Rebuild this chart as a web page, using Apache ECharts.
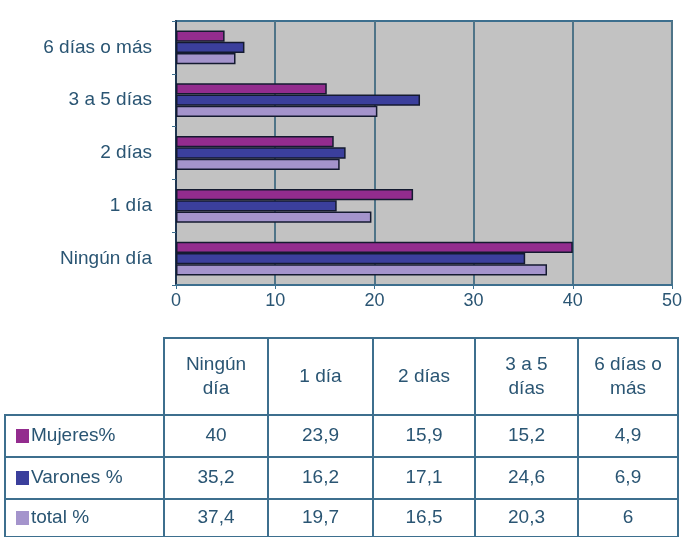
<!DOCTYPE html>
<html>
<head>
<meta charset="utf-8">
<script src="https://cdn.jsdelivr.net/npm/echarts@6/dist/echarts.min.js"></script>
<style>
  html, body { margin: 0; padding: 0; background: #fff; }
  #chart { width: 685px; height: 537px; }
</style>
</head>
<body>
<div id="chart"></div>
<script>
// categorias (de abajo hacia arriba en el grafico)
const categories = ["Ningún día", "1 día", "2 días", "3 a 5 días", "6 días o más"];
const headerLabels = ["Ningún\ndía", "1 día", "2 días", "3 a 5\ndías", "6 días o\nmás"];
const seriesNames = ["Mujeres%", "Varones %", "total %"];
const mujeres = [40, 23.9, 15.9, 15.2, 4.9];
const varones = [35.2, 16.2, 17.1, 24.6, 6.9];
const total = [37.4, 19.7, 16.5, 20.3, 6];
const colors = ["#932c8e", "#3b3f9c", "#a494cc"];

const textColor = "#2a5573";
const lineColor = "#3d6f8e";
const fontFam = "'Liberation Sans', Arial, sans-serif";

// tabla de abajo
const colX = [164, 268, 373, 475, 578, 678];
const rowY = [338, 415, 457, 499, 537];
const labelLeft = 5;
const seriesData = [mujeres, varones, total];

function fmt(v) {
  return String(v).replace(".", ",");
}

function cellText(x, y, text, align) {
  return {
    type: "text",
    x: x,
    y: y,
    style: {
      text: text,
      fontSize: 19,
      fontFamily: fontFam,
      fill: textColor,
      align: align,
      verticalAlign: "middle",
      textAlign: align,
      textVerticalAlign: "middle",
      lineHeight: 24
    }
  };
}

function cell(x, y, w, h) {
  return {
    type: "rect",
    shape: { x: x, y: y, width: w, height: h },
    style: { fill: "#fff", stroke: lineColor, lineWidth: 2 }
  };
}

let graphics = [];
// cabecera
for (let c = 0; c < headerLabels.length; c++) {
  graphics.push(cell(colX[c], rowY[0], colX[c + 1] - colX[c], rowY[1] - rowY[0]));
  graphics.push(cellText((colX[c] + colX[c + 1]) / 2, (rowY[0] + rowY[1]) / 2, headerLabels[c], "center"));
}
// filas
for (let r = 0; r < seriesNames.length; r++) {
  let y0 = rowY[r + 1], y1 = rowY[r + 2];
  graphics.push(cell(labelLeft, y0, colX[0] - labelLeft, y1 - y0));
  graphics.push({
    type: "rect",
    shape: { x: 16, y: (y0 + y1) / 2 - 7, width: 13, height: 14 },
    style: { fill: colors[r] }
  });
  graphics.push(cellText(31, (y0 + y1) / 2, seriesNames[r], "left"));
  for (let c = 0; c < categories.length; c++) {
    graphics.push(cell(colX[c], y0, colX[c + 1] - colX[c], y1 - y0));
    graphics.push(cellText((colX[c] + colX[c + 1]) / 2, (y0 + y1) / 2, fmt(seriesData[r][c]), "center"));
  }
}

let myChart = echarts.init(document.getElementById("chart"));
myChart.setOption({
  animation: false,
  backgroundColor: "#fff",
  grid: {
    left: 176,
    right: 13,
    top: 21,
    bottom: 252,
    show: true,
    backgroundColor: "#c2c2c2",
    borderColor: lineColor,
    borderWidth: 2
  },
  xAxis: {
    type: "value",
    min: 0,
    max: 50,
    interval: 10,
    axisLine: { show: true, lineStyle: { color: lineColor, width: 2 } },
    axisTick: { show: true, length: 4, lineStyle: { color: lineColor } },
    axisLabel: {
      color: textColor,
      fontSize: 18,
      fontFamily: fontFam,
      margin: 7
    },
    splitLine: { show: true, lineStyle: { color: "#4f7488", width: 2 } }
  },
  yAxis: {
    type: "category",
    data: categories,
    axisLine: { show: true, lineStyle: { color: "#1f3550", width: 2 } },
    axisTick: { show: true, length: 4, lineStyle: { color: lineColor } },
    axisLabel: {
      color: textColor,
      fontSize: 19,
      fontFamily: fontFam,
      margin: 24
    }
  },
  series: seriesNames.map((name, i) => ({
    name: name,
    type: "bar",
    data: seriesData[i],
    barGap: "0%",
    barCategoryGap: "36%",
    itemStyle: {
      color: colors[i],
      borderColor: "#141a30",
      borderWidth: 1.5
    }
  })),
  graphic: graphics
});
</script>
</body>
</html>
